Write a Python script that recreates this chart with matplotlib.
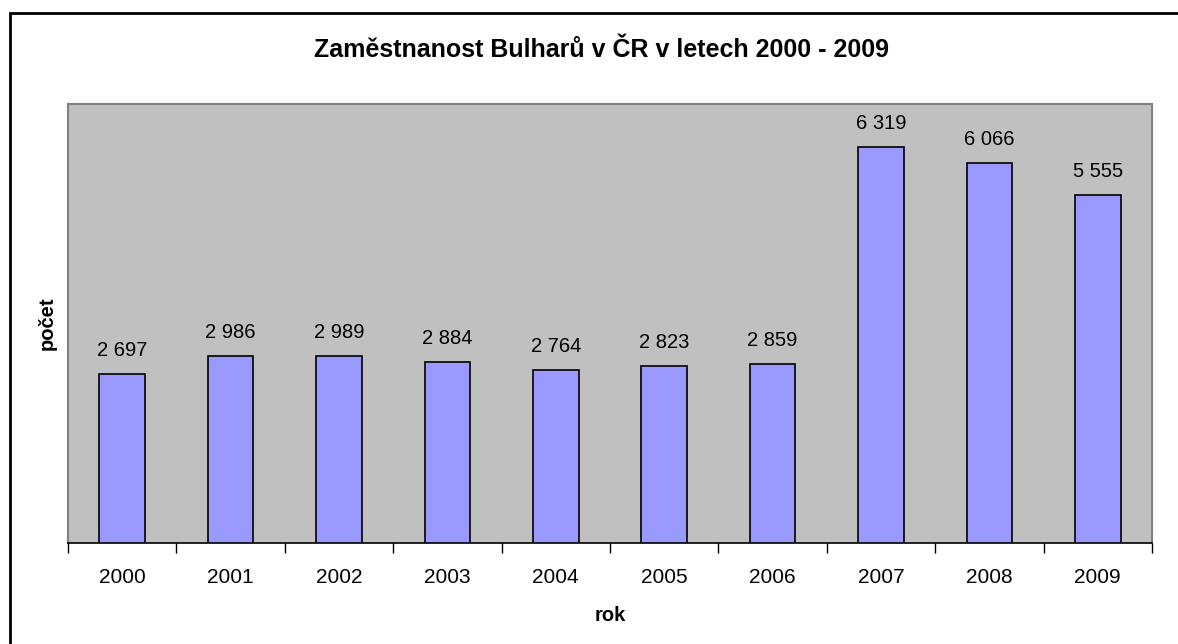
import matplotlib.pyplot as plt
import matplotlib.patches as patches
import numpy as np

plt.rcParams['font.family'] = ['Liberation Sans', 'DejaVu Sans']

roky = ['2000', '2001', '2002', '2003', '2004', '2005', '2006', '2007', '2008', '2009']
pocet = [2697, 2986, 2989, 2884, 2764, 2823, 2859, 6319, 6066, 5555]

fig = plt.figure(figsize=(11.78, 6.44), dpi=100)
ax = fig.add_axes([68 / 1178, 101 / 644, 1084 / 1178, 439 / 644])
ax.set_facecolor('#C0C0C0')

x = np.arange(len(roky))
bars = ax.bar(x, pocet, width=0.42, color='#9999FF', edgecolor='black', linewidth=1.2, zorder=3)

# popisky hodnot s mezerou jako oddelovacem tisicu
for xi, v in zip(x, pocet):
    ax.text(xi, v + 220, f'{v:,}'.replace(',', ' '), ha='center', va='bottom', fontsize=14.5)

ax.set_xlim(-0.5, len(roky) - 0.5)
ax.set_ylim(0, 7000)
ax.set_yticks([])
ax.set_xticks(x)
ax.set_xticklabels(roky, fontsize=15)
ax.tick_params(axis='x', which='major', length=0, pad=18)
ax.set_xticks(np.arange(-0.5, len(roky)), minor=True)
ax.tick_params(axis='x', which='minor', length=7, width=1, color='black', direction='out')

for s in ['top', 'left', 'right']:
    ax.spines[s].set_color('#808080')
    ax.spines[s].set_linewidth(1.5)
ax.spines['bottom'].set_color('black')
ax.spines['bottom'].set_linewidth(1.2)

ax.set_xlabel('rok', fontsize=14.5, fontweight='bold', labelpad=14)
ax.set_ylabel('počet', fontsize=14.5, fontweight='bold', labelpad=8)

fig.text(601 / 1178, 1 - 50 / 644, 'Zaměstnanost Bulharů v ČR v letech 2000 - 2009',
         ha='center', va='center', fontsize=18, fontweight='bold')

# ramecek grafu
fig.patches.append(patches.Rectangle((10 / 1178, -0.1), 1.2, 1 - 13 / 644 + 0.1,
                                     transform=fig.transFigure, fill=False,
                                     edgecolor='black', linewidth=2))

fig.savefig('out.png', dpi=100)
